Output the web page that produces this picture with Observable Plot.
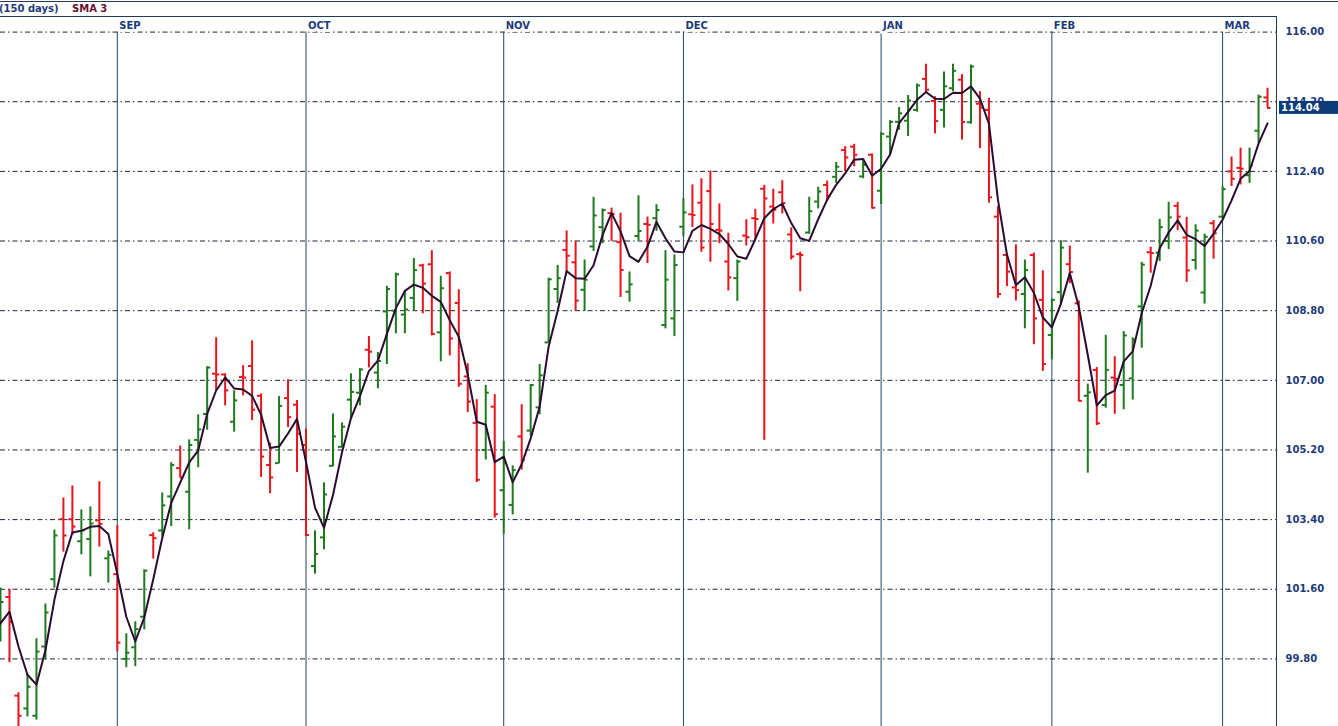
<!DOCTYPE html>
<html><head><meta charset="utf-8">
<script src="https://cdn.jsdelivr.net/npm/d3@7"></script>
<script src="https://cdn.jsdelivr.net/npm/@observablehq/plot@0.6"></script>
<style>
html,body{margin:0;padding:0;background:#fff;overflow:hidden;}
#wrap{position:relative;width:1338px;height:726px;font-family:"DejaVu Sans",Verdana,sans-serif;background:#fff;}
#head{position:relative;height:17px;overflow:hidden;}
#head .topline{position:absolute;left:0;top:1px;width:1338px;height:1px;background:#1f3a5a;}
#head .frameline{position:absolute;left:0;top:16px;width:1277px;height:1px;background:#1f3a5a;}
#head span{position:absolute;top:3px;font-size:10px;font-weight:bold;line-height:12px;white-space:nowrap;}
#frameRight{position:absolute;left:1276px;top:16px;width:1px;height:710px;background:#1f3a5a;}
#chart svg{display:block;}
</style></head>
<body><div id="wrap">
<div id="head"><div class="topline"></div><div class="frameline"></div>
<span id="days" style="left:-1px;color:#1e3a78"></span><span id="ind" style="left:72px;color:#6a1030"></span></div>
<div id="chart"></div><div id="frameRight"></div></div>
<script>
// ---- data (index of first bar; two earlier bars lie left of the visible area) ----
const firstIndex = -2;
const opens = [100.3,99.9,
100.6,101.4,98.85,98.52,98.33,100.12,101.86,103.41,103.41,102.84,102.9,103.38,102.40,101.99,99.80,100.1,100.89,103.0,103.12,104.0,
104.73,104.12,105.46,106.13,107.17,107.15,105.93,107.09,107.37,106.6,104.81,104.86,106.54,106.37,105.33,102.2,102.94,104.79,105.28,106.5,
106.68,107.79,107.2,108.78,108.8,108.7,109.13,109.97,110.0,108.24,109.77,109.0,107.1,105.9,105.2,106.32,104.16,103.78,105.55,105.7,
106.3,107.98,109.36,110.37,110.05,109.34,110.46,110.96,111.32,110.57,109.29,110.73,111.04,111.19,108.43,108.6,110.97,111.29,111.59,111.89,
110.89,110.07,109.64,110.74,111.19,111.95,111.49,111.86,110.77,110.26,110.82,111.62,112.05,112.26,112.95,113.04,112.27,112.83,111.9,113.3,
113.68,113.71,113.99,114.79,114.22,113.99,114.55,114.77,113.67,114.15,113.99,111.23,110.24,109.4,109.23,110.24,109.08,108.17,109.28,110.0,
108.99,106.6,107.27,106.36,107.07,106.88,107.05,108.91,110.31,110.3,110.6,111.51,110.69,110.11,109.27,111.06,111.23,112.4,112.49,112.3,
113.45,114.31];
const highs = [100.5,101.3,
101.63,101.6,98.93,99.39,100.32,101.22,103.13,103.96,104.27,103.65,103.73,104.38,102.59,103.25,100.45,100.76,102.1,103.06,104.09,104.87,
105.30,105.46,106.11,107.35,108.1,107.17,106.73,107.38,108.02,106.65,105.38,106.58,107.01,106.48,105.74,103.11,104.35,106.13,105.9,107.17,
107.3,108.13,107.72,109.43,109.77,109.32,110.15,110.0,110.35,109.69,109.8,109.34,107.43,106.5,106.87,106.63,105.42,104.79,106.37,106.89,
107.41,109.64,109.97,110.86,110.6,110.11,111.73,111.43,111.45,111.32,109.8,111.77,111.22,111.54,110.35,110.24,111.69,112.05,112.21,112.41,
111.56,110.8,110.11,111.15,111.42,112.04,111.94,112.16,110.94,110.31,111.73,111.99,112.15,112.63,113.04,113.1,112.67,112.85,113.40,113.71,
114.05,114.36,114.66,115.17,114.33,114.97,115.17,114.9,115.15,114.46,114.29,111.49,110.26,110.5,110.11,110.29,109.83,109.1,110.61,110.47,
109.05,106.9,107.33,108.16,107.61,108.26,108.1,110.05,110.44,111.16,111.6,111.6,111.21,111.02,110.78,111.13,112.01,112.77,113.0,113.0,
114.37,114.55];
const lows = [99.7,99.8,
100.24,99.7,97.9,98.30,98.22,99.77,101.63,102.56,103.0,102.49,101.92,102.69,101.76,99.98,99.57,99.6,100.55,102.38,102.95,103.22,
104.48,103.14,104.74,105.71,106.73,106.34,105.66,106.6,105.96,104.49,104.07,104.84,105.78,104.62,102.96,101.99,102.62,104.76,105.25,106.01,
106.34,107.32,106.78,107.41,108.2,108.2,108.78,108.72,108.15,107.48,107.63,106.82,106.17,104.36,104.94,103.44,103.02,103.52,104.68,105.55,
106.11,107.96,108.99,109.77,108.78,108.78,110.33,110.53,110.59,109.14,109.02,110.6,110.02,110.85,108.33,108.13,110.71,110.95,110.31,110.05,
110.53,109.31,109.04,110.47,110.63,105.45,111.04,111.3,110.11,109.29,110.77,111.43,111.62,112.09,112.39,112.52,112.21,111.43,111.54,112.83,
113.46,113.3,113.93,114.42,113.37,113.52,114.46,113.21,113.62,112.99,111.58,109.12,109.42,109.05,108.33,107.92,107.23,107.53,108.95,109.5,
106.45,104.6,105.83,106.28,106.12,106.24,106.49,107.83,109.77,110.07,110.38,110.87,109.53,109.85,108.97,110.13,111.16,112.01,112.05,112.09,
113.13,114.04];
const closes = [99.86,101.03,
101.27,100.76,98.33,99.08,99.99,101.0,102.99,102.99,103.22,103.12,103.3,103.29,102.49,100.22,99.96,100.57,102.08,102.92,103.77,104.81,
104.49,105.33,105.73,107.33,107.15,106.74,106.48,107.07,106.24,105.03,104.49,106.34,106.05,105.62,103.0,102.51,104.05,105.55,105.8,106.7,
107.28,107.74,107.5,109.36,109.74,108.83,109.85,109.5,108.2,109.38,108.08,106.91,106.45,104.43,106.68,103.54,104.87,104.68,104.94,106.88,
107.13,109.61,109.64,110.22,109.06,109.6,111.26,111.4,111.3,109.85,109.48,110.86,111.02,111.4,109.6,109.98,111.34,111.27,110.43,111.04,
110.87,109.66,110.07,110.7,111.17,111.7,111.41,111.58,110.2,110.24,111.37,111.88,111.76,112.52,112.76,112.83,112.57,111.46,113.37,113.68,
113.9,114.23,114.62,114.51,113.7,114.6,115.0,113.68,115.11,114.05,111.73,109.23,109.81,109.33,109.85,108.6,107.42,109.08,110.43,109.8,
106.47,106.69,105.89,107.27,107.04,108.16,108.05,109.99,110.29,110.96,111.21,111.23,109.84,110.87,110.71,110.8,111.94,112.21,112.47,112.55,
114.33,114.04];
const months = ["SEP","OCT","NOV","DEC","JAN","FEB","MAR"];
const monthStart = [13,34,56,76,98,117,136];
const yTicks = [99.80,101.60,103.40,105.20,107.00,108.80,110.60,112.40,114.20,116.00];
const periodLabel = "(150 days)";
const indicatorLabel = "SMA 3";

// ---- build ----
document.getElementById("days").textContent = periodLabel;
document.getElementById("ind").textContent = indicatorLabel;
const bars = opens.map((o, k) => ({i: firstIndex + k, open: o, high: highs[k], low: lows[k], close: closes[k]}));
const colorOf = d => d.close >= d.open ? "#1f7a1f" : "#e8141c";
const yDomain = [98.053, 116.377];
const fmt = d3.format(".2f");
const FONT = '"DejaVu Sans", Verdana, sans-serif';

const chart = Plot.plot({
  width: 1338, height: 709,
  marginLeft: 0, marginRight: 62, marginTop: 0, marginBottom: 0,
  style: {fontFamily: FONT, background: "white"},
  x: {domain: [0, 142], axis: null},
  y: {domain: yDomain, axis: null},
  marks: [
    Plot.ruleY(yTicks, {stroke: "#1a2236", strokeWidth: 1, strokeDasharray: "5,3,1.5,3"}),
    Plot.ruleX(monthStart, {y1: yDomain[0], y2: yTicks[yTicks.length - 1], stroke: "#1d4566", strokeWidth: 1}),
    Plot.text(months, {x: monthStart, text: d => d, frameAnchor: "top", lineAnchor: "middle", dy: 8.5, dx: 2, textAnchor: "start",
      fill: "#1e3a78", fontWeight: "bold", fontSize: 10, stroke: "white", strokeWidth: 6, paintOrder: "stroke"}),
    Plot.ruleX(bars, {x: "i", y1: "low", y2: "high", stroke: colorOf, strokeWidth: 2, clip: true}),
    Plot.ruleY(bars, {y: "open", x1: d => d.i - 0.4, x2: "i", stroke: colorOf, strokeWidth: 2, clip: true}),
    Plot.ruleY(bars, {y: "close", x1: "i", x2: d => d.i + 0.4, stroke: colorOf, strokeWidth: 2, clip: true}),
    Plot.lineY(bars, Plot.windowY({k: 3, anchor: "end", reduce: "mean"},
      {x: "i", y: "close", stroke: "#2a0c30", strokeWidth: 2, clip: true})),
    Plot.axisY(yTicks, {anchor: "right", tickSize: 0, tickPadding: 9, tickFormat: fmt,
      fontWeight: "bold", fontSize: 10, fill: "#1e3a78"})
  ]
});
document.getElementById("chart").appendChild(chart);

// last-price tag on the right axis, placed through the chart's own scales
const last = closes[closes.length - 1];
const yPix = chart.scale("y").apply(last);
const xEdge = chart.scale("x").range[1];
const svg = d3.select(chart);
svg.append("rect").attr("x", xEdge + 3).attr("y", yPix - 6.5).attr("width", 1338 - xEdge - 3).attr("height", 13)
  .attr("fill", "#0b3c78");
svg.append("text").attr("x", xEdge + 5).attr("y", yPix).attr("dy", "0.36em").attr("text-anchor", "start")
  .text(fmt(last)).attr("fill", "white").attr("font-weight", "bold").attr("font-size", 10).attr("font-family", FONT);
</script>
</body></html>
